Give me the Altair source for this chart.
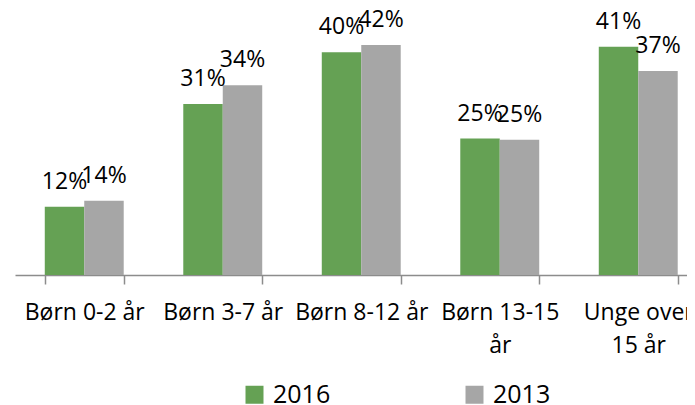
import altair as alt
import pandas as pd

categories = ["Børn 0-2 år", "Børn 3-7 år", "Børn 8-12 år", "Børn 13-15 år", "Unge over 15 år"]
wrapped = {"Børn 13-15 år": ["Børn 13-15", "år"], "Unge over 15 år": ["Unge over", "15 år"]}
series = ["2016", "2013"]
values_2016 = [12.4, 31.1, 40.5, 24.8, 41.5]
values_2013 = [13.5, 34.5, 41.8, 24.6, 37.1]
labels_2016 = ["12%", "31%", "40%", "25%", "41%"]
labels_2013 = ["14%", "34%", "42%", "25%", "37%"]
colors = ["#65A154", "#A6A6A6"]

rows = []
for s, vals, labs in [(series[0], values_2016, labels_2016), (series[1], values_2013, labels_2013)]:
    for c, v, l in zip(categories, vals, labs):
        rows.append({"kategori": c, "aar": s, "verdi": v, "tekst": l})
df = pd.DataFrame(rows)

label_expr = ""
for k, parts in wrapped.items():
    label_expr += "datum.label == '%s' ? [%s] : " % (k, ", ".join("'%s'" % p for p in parts))
label_expr += "datum.label"

FONT = "Open Sans"

x = alt.X(
    "kategori:N",
    sort=categories,
    title=None,
    scale=alt.Scale(range=[0, 692.5], paddingInner=0.43, paddingOuter=0.215),
    axis=alt.Axis(
        labelAngle=0,
        labelFont=FONT,
        labelFontSize=23,
        labelColor="#000000",
        labelPadding=17,
        labelLineHeight=33,
        labelBaseline="top",
        labelLimit=0,
        labelOverlap=False,
        labelFlush=False,
        labelExpr=label_expr,
        tickBand="extent",
        tickSize=9,
        tickColor="#8c8c8c",
        domainColor="#8c8c8c",
        tickWidth=1.5,
        domainWidth=1.5,
    ),
)
y = alt.Y("verdi:Q", scale=alt.Scale(domain=[0, 48]), axis=None)
xo = alt.XOffset("aar:N", sort=series, scale=alt.Scale(paddingInner=0, paddingOuter=0))

bars = alt.Chart(df).mark_bar().encode(
    x=x,
    xOffset=xo,
    y=y,
    color=alt.Color(
        "aar:N",
        sort=series,
        scale=alt.Scale(domain=series, range=colors),
        legend=alt.Legend(
            title=None,
            orient="none",
            legendX=227,
            legendY=371,
            direction="horizontal",
            columns=2,
            columnPadding=131,
            symbolType="square",
            symbolSize=324,
            symbolStrokeWidth=0,
            labelFont=FONT,
            labelFontSize=25,
            labelColor="#000000",
            labelOffset=6,
            padding=0,
        ),
    ),
)

text = alt.Chart(df).mark_text(
    font=FONT, fontSize=23, color="#000000", baseline="alphabetic", dy=-18
).encode(x=x, xOffset=xo, y=y, text="tekst:N")

chart = (
    alt.layer(bars, text)
    .properties(
        width=672,
        height=264,
        autosize=alt.AutoSizeParams(type="none"),
        padding={"left": 7, "top": 3, "right": 0, "bottom": 130},
    )
    .configure_view(stroke=None)
)

chart.save("out.html", embed_options={"renderer": "svg", "actions": False})
